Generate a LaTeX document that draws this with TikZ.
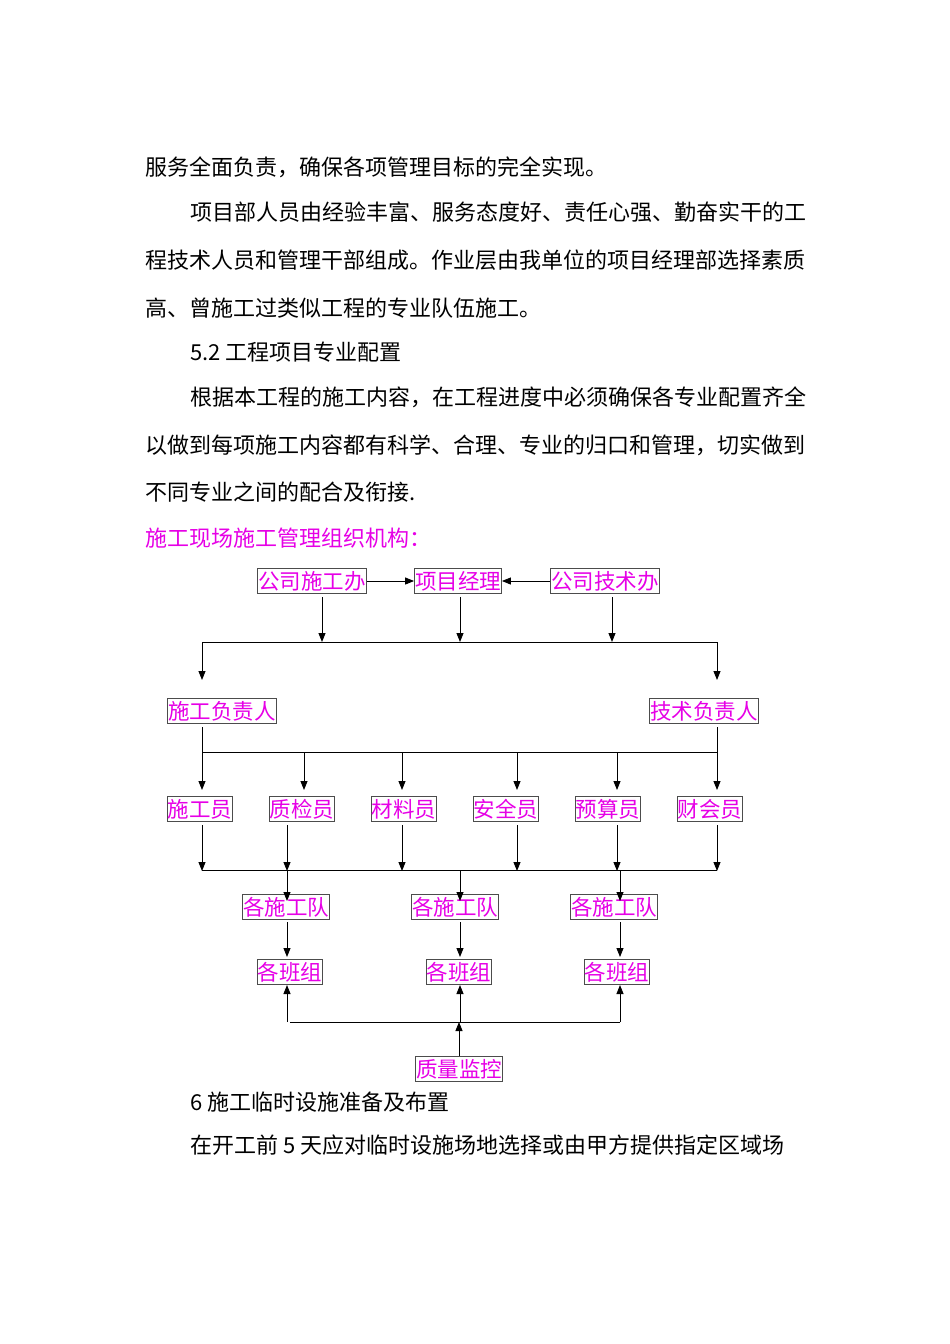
\documentclass[tikz,border=0pt]{standalone}
\usepackage{fontspec}
\setmainfont{Noto Sans CJK SC}
\usetikzlibrary{arrows.meta}
\definecolor{mag}{RGB}{230,0,230}
\begin{document}
\begin{tikzpicture}[x=1pt,y=-1pt,
  bx/.style={draw=black!70,line width=0.8pt,text=mag,font=\fontsize{21.5}{21.5}\selectfont,inner sep=0.5pt,minimum height=25pt},
  ar/.style={-{Triangle[length=9pt,width=7pt]},line width=0.9pt},
  ln/.style={line width=0.9pt},
  bt/.style={anchor=west,font=\fontsize{22}{22}\selectfont,inner sep=0pt}]
\useasboundingbox (0,0) rectangle (950,1344);
\node[bt] (t1) at (145,167) {服务全面负责，确保各项管理目标的完全实现。};
\node[bt] (t2) at (190,212) {项目部人员由经验丰富、服务态度好、责任心强、勤奋实干的工};
\node[bt] (t3) at (145,260) {程技术人员和管理干部组成。作业层由我单位的项目经理部选择素质};
\node[bt] (t4) at (145,308) {高、曾施工过类似工程的专业队伍施工。};
\node[bt] (t5) at (190,352) {5.2 工程项目专业配置};
\node[bt] (t6) at (190,397) {根据本工程的施工内容，在工程进度中必须确保各专业配置齐全};
\node[bt] (t7) at (145,445) {以做到每项施工内容都有科学、合理、专业的归口和管理，切实做到};
\node[bt] (t8) at (145,492) {不同专业之间的配合及衔接.};
\node[bt,text=mag] (t9) at (145,538) {施工现场施工管理组织机构：};
\node[bt] (t10) at (190,1102) {6 施工临时设施准备及布置};
\node[bt] (t11) at (190,1145) {在开工前 5 天应对临时设施场地选择或由甲方提供指定区域场};

\node[bx] (a) at (312,581) {公司施工办};
\node[bx] (b) at (458,581) {项目经理};
\node[bx] (c) at (605,581) {公司技术办};
\node[bx] (d) at (222,711) {施工负责人};
\node[bx] (e) at (704,711) {技术负责人};
\node[bx] (r1) at (200,809) {施工员};
\node[bx] (r2) at (302,809) {质检员};
\node[bx] (r3) at (404,809) {材料员};
\node[bx] (r4) at (506,809) {安全员};
\node[bx] (r5) at (608,809) {预算员};
\node[bx] (r6) at (710,809) {财会员};
\node[bx] (q1) at (286,907) {各施工队};
\node[bx] (q2) at (455,907) {各施工队};
\node[bx] (q3) at (614,907) {各施工队};
\node[bx] (g1) at (290,972) {各班组};
\node[bx] (g2) at (459,972) {各班组};
\node[bx] (g3) at (617,972) {各班组};
\node[bx] (m) at (459,1069) {质量监控};

\draw[ar] (a) -- (b);
\draw[ar] (c) -- (b);
\draw[ar] (322,597) -- (322,642);
\draw[ar] (b.south) ++(2,3) -- (460,642);
\draw[ar] (612,597) -- (612,642);
\draw[ln] (202,642) -- (717,642);
\draw[ar] (202,642) -- (202,680);
\draw[ar] (717,642) -- (717,680);
\draw[ln] (202,727) -- (202,752);
\draw[ln] (717,727) -- (717,752);
\draw[ln] (202,752) -- (717,752);
\foreach \x in {202,304,402,517,617,717}{
  \draw[ar] (\x,752) -- (\x,790);}
\foreach \x in {202,287,402,517,617,717}{
  \draw[ar] (\x,825) -- (\x,871);}
\draw[ln] (202,870) -- (717,870);
\foreach \x in {287,460,620}{
  \draw[ar] (\x,870) -- (\x,901);
  \draw[ar] (\x,922) -- (\x,957);
  \draw[ar] (\x,1022) -- (\x,985);}
\draw[ln] (290,1022) -- (620,1022);
\draw[ar] (m.north) -- (459,1022);
\end{tikzpicture}
\end{document}
